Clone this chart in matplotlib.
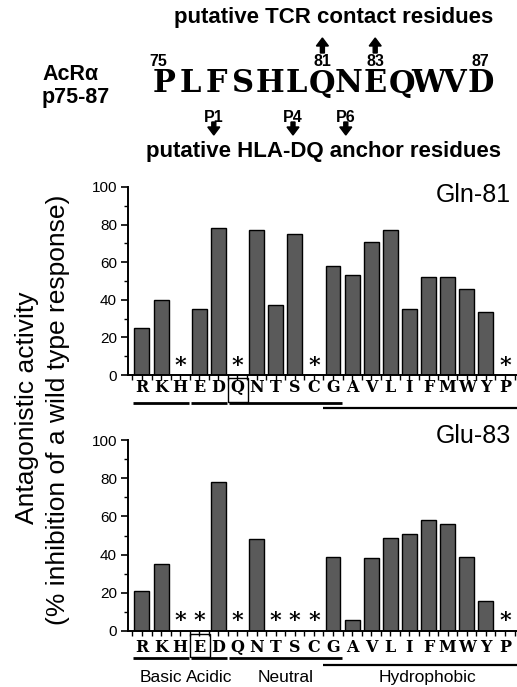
import numpy as np
import matplotlib
matplotlib.use("Agg")
import matplotlib.pyplot as plt
from matplotlib import transforms
from matplotlib.patches import Rectangle, FancyArrow

# ---------------- data ----------------
residues = ["R", "K", "H", "E", "D", "Q", "N", "T", "S", "C",
            "G", "A", "V", "L", "I", "F", "M", "W", "Y", "P"]
# None = no activity measured (shown as asterisk)
gln81 = [25, 40, None, 35, 78, None, 77, 37, 75, None,
         58, 53, 71, 77, 35, 52, 52, 46, 33.5, None]
glu83 = [21, 35, None, None, 78, None, 48, None, None, None,
         39, 6, 38, 48.5, 51, 58, 56, 39, 15.5, None]
panel_titles = ["Gln-81", "Glu-83"]
wild_type = ["Q", "E"]
groups = [("Basic", "R", "H"), ("Acidic", "E", "D"),
          ("Neutral", "Q", "G"), ("Hydrophobic", "G", "P")]
yticks = [0, 20, 40, 60, 80, 100]

sequence = "PLFSHLQNEQWVD"
seq_start = 75
numbered = [75, 81, 83, 87]
tcr_contacts = [81, 83]
anchors = [("P1", 77), ("P4", 80), ("P6", 82)]

# ---------------- figure ----------------
W, H = 517, 687
fig = plt.figure(figsize=(W / 100, H / 100), dpi=100)
SANS = ["Liberation Sans", "DejaVu Sans"]
SERIF = ["DejaVu Serif"]
plt.rcParams["font.family"] = SANS

bar_color = "#5a5a5a"

def px_axes(x0, y_top, x1, y_bot):
    return [x0 / W, 1 - y_bot / H, (x1 - x0) / W, (y_bot - y_top) / H]

axes_rects = [px_axes(128, 187, 517, 375), px_axes(128, 440, 517, 631)]
label_y = [-0.064, -0.086]
line_y = [-0.150, -0.143]
hyd_y = [-0.178, -0.180]
title_y = [0.955, 1.02]

x = np.arange(len(residues))
idx = {r: i for i, r in enumerate(residues)}

for p, (vals, rect) in enumerate(zip([gln81, glu83], axes_rects)):
    ax = fig.add_axes(rect)
    heights = [v if v is not None else 0 for v in vals]
    ax.bar(x, heights, width=0.78, color=bar_color, edgecolor="black",
           linewidth=1.0, zorder=2)
    for i, v in enumerate(vals):
        if v is None:
            ax.text(i, 5, "*", ha="center", va="center", fontsize=16,
                    family=SERIF, fontweight="bold")
    ax.set_xlim(-0.73, 19.63)
    ax.set_ylim(0, 100)
    ax.set_yticks(yticks)
    ax.set_yticks(np.arange(0, 101, 10), minor=True)
    ax.tick_params(axis="y", which="major", length=5, width=1.2, labelsize=11,
                   direction="out", pad=3)
    ax.tick_params(axis="y", which="minor", length=3, width=1.0)
    ax.set_xticks(np.arange(-0.5, 19.6, 0.5))
    ax.set_xticklabels([])
    ax.tick_params(axis="x", length=3.5, width=1.0, direction="out")
    for s in ["top", "right"]:
        ax.spines[s].set_visible(False)
    for s in ["left", "bottom"]:
        ax.spines[s].set_linewidth(1.4)

    trans = transforms.blended_transform_factory(ax.transData, ax.transAxes)
    for i, r in enumerate(residues):
        ax.text(i, label_y[p], r, transform=trans, ha="center", va="center",
                fontsize=11.5, family=SERIF, fontweight="bold",
                clip_on=False)
    # box around wild-type residue
    wi = idx[wild_type[p]]
    ax.add_patch(Rectangle((wi - 0.5, line_y[p] + 0.005), 1.05,
                           -line_y[p] - 0.02, transform=trans, fill=False,
                           edgecolor="black", linewidth=1.0, clip_on=False))
    # group underlines
    for gname, a, b in groups:
        ia, ib = idx[a], idx[b]
        if gname == "Hydrophobic":
            ax.plot([ia - 0.5, 19.65], [hyd_y[p]] * 2, color="black", lw=1.6,
                    transform=trans, clip_on=False, solid_capstyle="butt")
        else:
            ax.plot([ia - 0.45, ib + 0.45], [line_y[p]] * 2, color="black",
                    lw=2.0, transform=trans, clip_on=False,
                    solid_capstyle="butt")
        if p == 1:
            cx = (ia + ib) / 2 if gname != "Hydrophobic" else (ia + 19.5) / 2 + 0.2
            ax.text(cx, -0.245, gname, transform=trans, ha="center",
                    va="center", fontsize=12.5)
    ax.text(0.985, title_y[p], panel_titles[p], transform=ax.transAxes,
            ha="right", va="center", fontsize=18)

# y-axis label
fig.text(27 / W, 1 - 408 / H, "Antagonistic activity", rotation=90,
         ha="center", va="center", fontsize=19)
fig.text(58 / W, 1 - 410 / H, "(% inhibition of a wild type response)",
         rotation=90, ha="center", va="center", fontsize=19)

# ---------------- header ----------------
ov = fig.add_axes([0, 0, 1, 1])
ov.set_xlim(0, W)
ov.set_ylim(H, 0)
ov.axis("off")
ov.patch.set_visible(False)

def res_x(n):
    return 164 + 26.4 * (n - seq_start)

for k, ch in enumerate(sequence):
    ov.text(res_x(seq_start + k), 84, ch, ha="center", va="center",
            fontsize=22, family=SERIF, fontweight="bold")
for n in numbered:
    ov.text(res_x(n) - (6 if n == seq_start else 0), 61, str(n),
            ha="center", va="center", fontsize=11.5, fontweight="bold")
for n in tcr_contacts:
    ov.add_patch(FancyArrow(res_x(n), 53, 0, -15, width=4, head_width=12,
                            head_length=8, length_includes_head=True,
                            color="black"))
for lab, n in anchors:
    ov.text(res_x(n) - 3, 117, lab, ha="center", va="center",
            fontsize=11.5, fontweight="bold")
    ov.add_patch(FancyArrow(res_x(n) - 3, 122, 0, 13, width=4, head_width=12,
                            head_length=8, length_includes_head=True,
                            color="black"))

ov.text(334, 18, "putative TCR contact residues", ha="center", va="center",
        fontsize=16, fontweight="bold")
ov.text(323, 152, "putative HLA-DQ anchor residues", ha="center",
        va="center", fontsize=16, fontweight="bold")
ov.text(42, 74, "AcR\u03b1", ha="left", va="center", fontsize=15.5,
        fontweight="bold")
ov.text(42, 98, "p75-87", ha="left", va="center", fontsize=15.5,
        fontweight="bold")

fig.savefig("out.png", dpi=100)
